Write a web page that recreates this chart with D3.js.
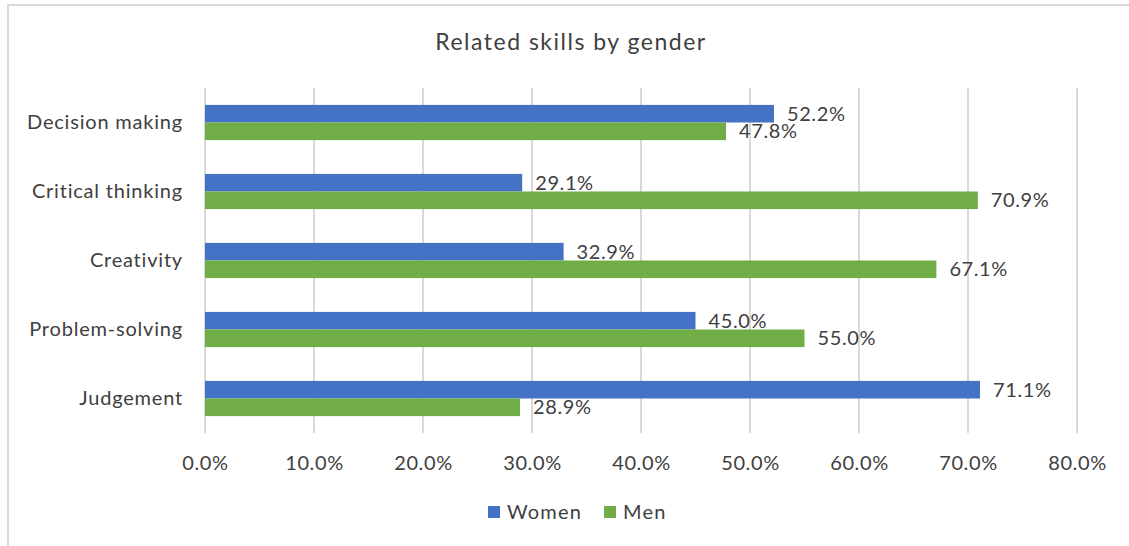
<!DOCTYPE html>
<html>
<head>
<meta charset="utf-8">
<script src="https://cdn.jsdelivr.net/npm/d3@7"></script>
<style>
  html, body { margin: 0; padding: 0; background: #fff; }
  svg { display: block; }
  text { font-family: Lato, "Open Sans", sans-serif; fill: #404040; }
</style>
</head>
<body>
<svg id="chart" width="1129" height="546"></svg>
<script>
// Share of each related skill by gender (percent)
const categories = ["Decision making", "Critical thinking", "Creativity", "Problem-solving", "Judgement"];
const women = [52.2, 29.1, 32.9, 45.0, 71.1];
const men = [47.8, 70.9, 67.1, 55.0, 28.9];
const seriesNames = ["Women", "Men"];
const seriesColors = ["#4472C4", "#70AD47"];
const xTicks = [0, 10, 20, 30, 40, 50, 60, 70, 80];
const title = "Related skills by gender";

const svg = d3.select("#chart");
const W = 1129, H = 546;
const plot = { left: 205, right: 1077, top: 88, bottom: 433 };

// outer frame (top and left edges visible)
svg.append("path")
  .attr("d", `M8,${H} L8,5 L${W},5`)
  .attr("fill", "none")
  .attr("stroke", "#d9d9d9")
  .attr("stroke-width", 2);

svg.append("text")
  .attr("x", 571).attr("y", 50)
  .attr("text-anchor", "middle")
  .style("font-size", "23px")
  .style("letter-spacing", "1.5px")
  .text(title);

const x = d3.scaleLinear().domain([0, 80]).range([plot.left, plot.right]);
const y0 = d3.scaleBand().domain(categories).range([plot.top, plot.bottom]).paddingInner(0.49).paddingOuter(0.245);
const y1 = d3.scaleBand().domain(seriesNames).range([0, y0.bandwidth()]);

// vertical gridlines
svg.append("g")
  .selectAll("line")
  .data(xTicks)
  .join("line")
  .attr("x1", d => x(d)).attr("x2", d => x(d))
  .attr("y1", plot.top).attr("y2", plot.bottom)
  .attr("stroke", "#d9d9d9")
  .attr("stroke-width", 2);

// x axis tick labels
const xAxis = d3.axisBottom(x).tickValues(xTicks).tickSize(0).tickPadding(0)
  .tickFormat(d => d.toFixed(1) + "%");
const gx = svg.append("g").attr("transform", `translate(0,${plot.bottom + 23})`).call(xAxis);
gx.select(".domain").remove();
gx.selectAll("text").attr("dy", "0.71em").style("font-size", "20px")
  .style("letter-spacing", "0.6px").style("font-family", null);

// category axis labels
const yAxis = d3.axisLeft(y0).tickSize(0).tickPadding(22);
const gy = svg.append("g").attr("transform", `translate(${plot.left},0)`).call(yAxis);
gy.select(".domain").remove();
gy.selectAll("text").style("font-size", "20px")
  .style("letter-spacing", "0.8px").style("font-family", null);

const rows = categories.map((c, i) => ({ cat: c, vals: [women[i], men[i]] }));

const groups = svg.append("g").selectAll("g")
  .data(rows).join("g")
  .attr("transform", d => `translate(0,${y0(d.cat)})`);

groups.selectAll("rect")
  .data(d => d.vals.map((v, j) => ({ v, s: seriesNames[j], c: seriesColors[j] })))
  .join("rect")
  .attr("x", x(0))
  .attr("y", d => y1(d.s))
  .attr("width", d => x(d.v) - x(0))
  .attr("height", y1.bandwidth())
  .attr("fill", d => d.c);

groups.selectAll("text.val")
  .data(d => d.vals.map((v, j) => ({ v, s: seriesNames[j] })))
  .join("text")
  .attr("class", "val")
  .attr("x", d => x(d.v) + 13)
  .attr("y", d => y1(d.s) + y1.bandwidth() / 2)
  .attr("dy", "0.36em")
  .style("font-size", "20px")
  .style("letter-spacing", "0.6px")
  .text(d => d.v.toFixed(1) + "%");

// legend
const legend = svg.append("g").attr("transform", "translate(488,512)");
const legendX = [0, 116];
seriesNames.forEach((name, i) => {
  const g = legend.append("g").attr("transform", `translate(${legendX[i]},0)`);
  g.append("rect").attr("x", 0).attr("y", -6).attr("width", 12).attr("height", 12).attr("fill", seriesColors[i]);
  g.append("text").attr("x", 19).attr("y", 0).attr("dy", "0.36em")
    .style("font-size", "20px").style("letter-spacing", "1.2px").text(name);
});
</script>
</body>
</html>
